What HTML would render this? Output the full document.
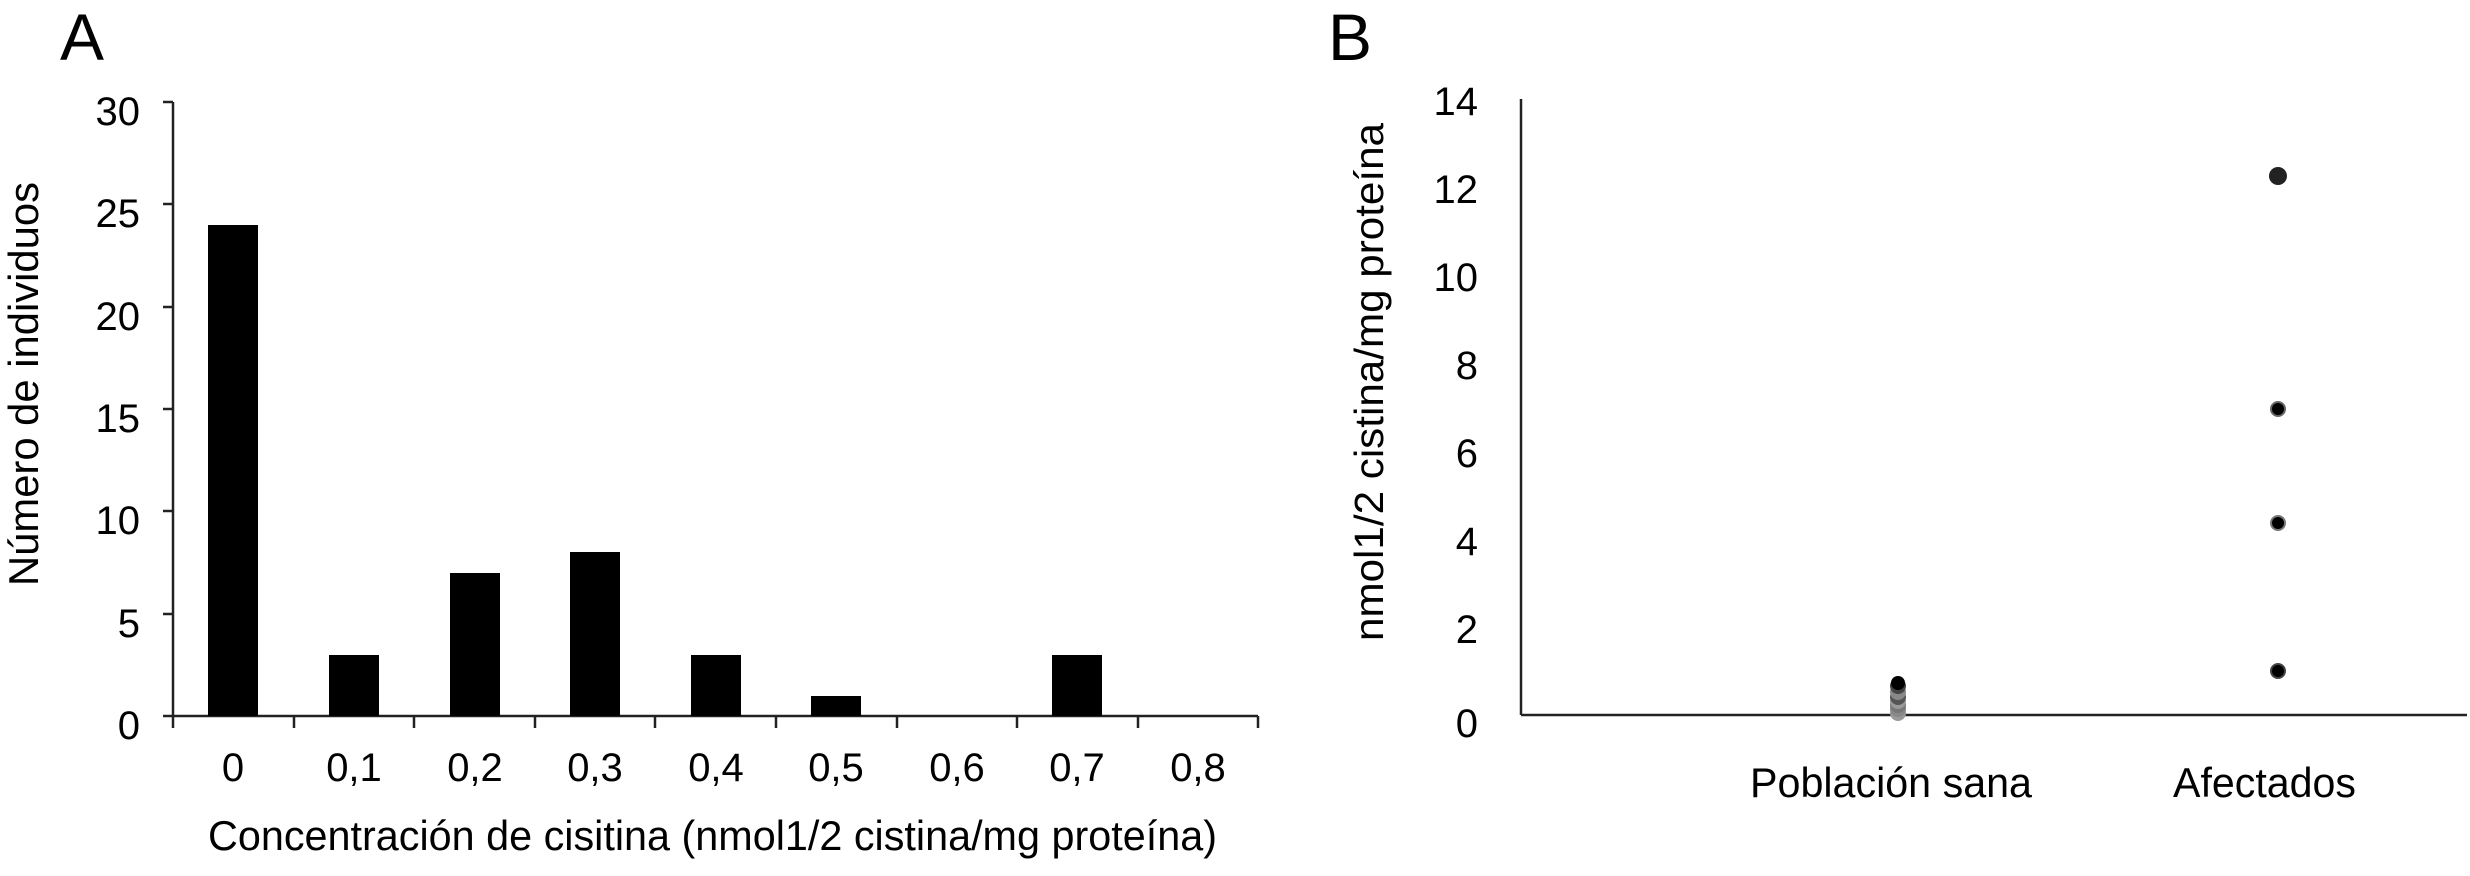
<!DOCTYPE html>
<html><head><meta charset="utf-8"><style>html,body{margin:0;padding:0;background:#fff}</style></head>
<body>
<svg width="2470" height="871" xmlns="http://www.w3.org/2000/svg" font-family="Liberation Sans, Arial, sans-serif" fill="#000">
<rect width="2470" height="871" fill="#fff"/>
<text x="60" y="60" font-size="66">A</text>
<text x="1328" y="60" font-size="66">B</text>
<!-- Panel A axes -->
<g stroke="#222" stroke-width="2.5" fill="none">
<line x1="173" y1="102" x2="173" y2="716"/>
<line x1="173" y1="716" x2="1258" y2="716"/>
<line x1="163" y1="102" x2="173" y2="102"/>
<line x1="163" y1="204" x2="173" y2="204"/>
<line x1="163" y1="307" x2="173" y2="307"/>
<line x1="163" y1="409" x2="173" y2="409"/>
<line x1="163" y1="511" x2="173" y2="511"/>
<line x1="163" y1="614" x2="173" y2="614"/>
<line x1="163" y1="716" x2="173" y2="716"/>
<line x1="173" y1="716" x2="173" y2="728"/>
<line x1="294" y1="716" x2="294" y2="728"/>
<line x1="414" y1="716" x2="414" y2="728"/>
<line x1="535" y1="716" x2="535" y2="728"/>
<line x1="655" y1="716" x2="655" y2="728"/>
<line x1="776" y1="716" x2="776" y2="728"/>
<line x1="897" y1="716" x2="897" y2="728"/>
<line x1="1017" y1="716" x2="1017" y2="728"/>
<line x1="1138" y1="716" x2="1138" y2="728"/>
<line x1="1258" y1="716" x2="1258" y2="728"/>
</g>
<g font-size="40" text-anchor="end">
<text x="140" y="125">30</text>
<text x="140" y="227">25</text>
<text x="140" y="330">20</text>
<text x="140" y="432">15</text>
<text x="140" y="534">10</text>
<text x="140" y="637">5</text>
<text x="140" y="739">0</text>
</g>
<!-- bars -->
<g fill="#000">
<rect x="208" y="225" width="50" height="491"/>
<rect x="329" y="655" width="50" height="61"/>
<rect x="450" y="573" width="50" height="143"/>
<rect x="570" y="552" width="50" height="164"/>
<rect x="691" y="655" width="50" height="61"/>
<rect x="811" y="696" width="50" height="20"/>
<rect x="1052" y="655" width="50" height="61"/>
</g>
<g font-size="40" text-anchor="middle">
<text x="233" y="781">0</text>
<text x="354" y="781">0,1</text>
<text x="475" y="781">0,2</text>
<text x="595" y="781">0,3</text>
<text x="716" y="781">0,4</text>
<text x="836" y="781">0,5</text>
<text x="957" y="781">0,6</text>
<text x="1077" y="781">0,7</text>
<text x="1198" y="781">0,8</text>
</g>
<text x="208" y="850" font-size="42" textLength="1009" lengthAdjust="spacingAndGlyphs">Concentración de cisitina (nmol1/2 cistina/mg proteína)</text>
<text transform="translate(38,384) rotate(-90)" font-size="42" text-anchor="middle" textLength="404" lengthAdjust="spacingAndGlyphs">Número de individuos</text>
<!-- Panel B -->
<g stroke="#222" stroke-width="2.5" fill="none">
<line x1="1521" y1="99" x2="1521" y2="715"/>
<line x1="1521" y1="715" x2="2467" y2="715"/>
</g>
<g font-size="40" text-anchor="end">
<text x="1478" y="115">14</text>
<text x="1478" y="203">12</text>
<text x="1478" y="291">10</text>
<text x="1478" y="379">8</text>
<text x="1478" y="467">6</text>
<text x="1478" y="555">4</text>
<text x="1478" y="643">2</text>
<text x="1478" y="737">0</text>
</g>
<text transform="translate(1383,382) rotate(-90)" font-size="41" text-anchor="middle" textLength="518" lengthAdjust="spacingAndGlyphs">nmol1/2 cistina/mg proteína</text>
<g font-size="42">
<text x="1750" y="797" textLength="282" lengthAdjust="spacingAndGlyphs">Población sana</text>
<text x="2173" y="797" textLength="183" lengthAdjust="spacingAndGlyphs">Afectados</text>
</g>
<!-- points -->
<g>
<circle cx="1898" cy="713" r="8" fill="#999"/>
<circle cx="1898" cy="709" r="8" fill="#888"/>
<circle cx="1898" cy="705" r="8" fill="#777"/>
<circle cx="1898" cy="701" r="8" fill="#999"/>
<circle cx="1898" cy="697" r="8" fill="#555"/>
<circle cx="1898" cy="692" r="8" fill="#888"/>
<circle cx="1898" cy="686" r="8" fill="#444"/>
<circle cx="1898" cy="683" r="7" fill="#000"/>
<circle cx="2278" cy="176" r="9" fill="#222"/>
<circle cx="2278" cy="409" r="8" fill="#666"/><circle cx="2278" cy="409" r="6" fill="#000"/>
<circle cx="2278" cy="523" r="8" fill="#777"/><circle cx="2278" cy="523" r="6" fill="#000"/>
<circle cx="2278" cy="671" r="8" fill="#444"/><circle cx="2278" cy="671" r="6" fill="#000"/>
</g>
</svg>
</body></html>
